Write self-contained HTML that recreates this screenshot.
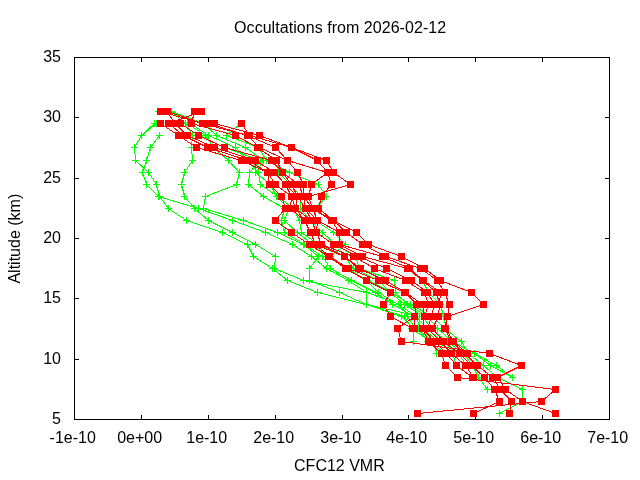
<!DOCTYPE html>
<html><head><meta charset="utf-8"><title>Occultations from 2026-02-12</title>
<style>html,body{margin:0;padding:0;background:#fff}body{width:640px;height:480px;overflow:hidden}svg{display:block}text{font-family:"Liberation Sans",sans-serif;font-size:16px;fill:#000}</style></head><body>
<svg width="640" height="480" viewBox="0 0 640 480">
<rect width="640" height="480" fill="#fff"/>
<text x="340.1" y="33.1" text-anchor="middle" textLength="212" lengthAdjust="spacing">Occultations from 2026-02-12</text>
<text x="339.4" y="471.3" text-anchor="middle">CFC12 VMR</text>
<text transform="translate(19.5,238.7) rotate(-90)" text-anchor="middle">Altitude (km)</text>
<text x="61" y="424.3" text-anchor="end">5</text>
<text x="61" y="364.3" text-anchor="end">10</text>
<text x="61" y="303.3" text-anchor="end">15</text>
<text x="61" y="243.3" text-anchor="end">20</text>
<text x="61" y="183.3" text-anchor="end">25</text>
<text x="61" y="122.3" text-anchor="end">30</text>
<text x="61" y="62.3" text-anchor="end">35</text>
<text x="72.7" y="443" text-anchor="middle">-1e-10</text>
<text x="139.7" y="443" text-anchor="middle">0e+00</text>
<text x="206.7" y="443" text-anchor="middle">1e-10</text>
<text x="273.7" y="443" text-anchor="middle">2e-10</text>
<text x="340.7" y="443" text-anchor="middle">3e-10</text>
<text x="406.7" y="443" text-anchor="middle">4e-10</text>
<text x="473.7" y="443" text-anchor="middle">5e-10</text>
<text x="540.7" y="443" text-anchor="middle">6e-10</text>
<text x="607.7" y="443" text-anchor="middle">7e-10</text>
<g shape-rendering="crispEdges">
<path fill="none" stroke="#000" stroke-width="1" d="M74.5 57.5H609.5V419.5H74.5Z"/>
<path fill="none" stroke="#000" stroke-width="1" d="M141.5 419v-4M141.5 58v4M208.5 419v-4M208.5 58v4M275.5 419v-4M275.5 58v4M342.5 419v-4M342.5 58v4M408.5 419v-4M408.5 58v4M475.5 419v-4M475.5 58v4M542.5 419v-4M542.5 58v4M75 359.5h4M609 359.5h-4M75 298.5h4M609 298.5h-4M75 238.5h4M609 238.5h-4M75 178.5h4M609 178.5h-4M75 117.5h4M609 117.5h-4"/>
<polyline fill="none" stroke="#00ff00" stroke-width="1" points="154.5,123.5 141.5,135.5 134.5,147.5 135.5,160.5 148.5,172.5 156.5,184.5 159.5,196.5 168.5,208.5 186.5,220.5 222.5,232.5 247.5,244.5 253.5,256.5 272.5,268.5 287.5,280.5 317.5,292.5 366.5,304.5 401.5,316.5 413.5,328.5 413.5,341.5"/>
<polyline fill="none" stroke="#00ff00" stroke-width="1" points="159.5,135.5 150.5,147.5 146.5,160.5 142.5,172.5 146.5,184.5 158.5,196.5 198.5,208.5 232.5,220.5 265.5,232.5 292.5,244.5 311.5,256.5 326.5,268.5 348.5,280.5 366.5,292.5 400.5,304.5 407.5,316.5 415.5,328.5 434.5,341.5 436.5,353.5"/>
<polyline fill="none" stroke="#00ff00" stroke-width="1" points="171.5,111.5 185.5,123.5 192.5,135.5 191.5,147.5 192.5,160.5 184.5,172.5 181.5,184.5 184.5,196.5 194.5,208.5 208.5,220.5 232.5,232.5 255.5,244.5 275.5,256.5 274.5,268.5 303.5,280.5 366.5,292.5 366.5,304.5 404.5,316.5 411.5,328.5 430.5,341.5 444.5,353.5"/>
<polyline fill="none" stroke="#00ff00" stroke-width="1" points="187.5,123.5 205.5,135.5 213.5,147.5 228.5,160.5 239.5,172.5 236.5,184.5 205.5,196.5 203.5,208.5 243.5,220.5 277.5,232.5 303.5,244.5 318.5,256.5 309.5,268.5 309.5,280.5 339.5,292.5 366.5,304.5 419.5,316.5 418.5,328.5 427.5,341.5 441.5,353.5 445.5,365.5"/>
<polyline fill="none" stroke="#00ff00" stroke-width="1" points="199.5,135.5 224.5,147.5 260.5,160.5 249.5,172.5 248.5,184.5 263.5,196.5 284.5,208.5 281.5,220.5 284.5,232.5 304.5,244.5 322.5,256.5 330.5,268.5 351.5,280.5 375.5,292.5 392.5,304.5 414.5,316.5 422.5,328.5 438.5,341.5 452.5,353.5 456.5,365.5"/>
<polyline fill="none" stroke="#00ff00" stroke-width="1" points="203.5,123.5 216.5,135.5 245.5,147.5 263.5,160.5 255.5,172.5 270.5,184.5 276.5,196.5 288.5,208.5 284.5,220.5 297.5,232.5 312.5,244.5 329.5,256.5 346.5,268.5 366.5,280.5 378.5,292.5 398.5,304.5 416.5,316.5 426.5,328.5 442.5,341.5 458.5,353.5 466.5,365.5"/>
<polyline fill="none" stroke="#00ff00" stroke-width="1" points="190.5,123.5 208.5,135.5 235.5,147.5 247.5,160.5 258.5,172.5 260.5,184.5 277.5,196.5 293.5,208.5 299.5,220.5 301.5,232.5 318.5,244.5 344.5,256.5 353.5,268.5 378.5,280.5 390.5,292.5 404.5,304.5 423.5,316.5 430.5,328.5 447.5,341.5 463.5,353.5 472.5,365.5 478.5,377.5 487.5,389.5"/>
<polyline fill="none" stroke="#00ff00" stroke-width="1" points="278.5,172.5 290.5,184.5 300.5,196.5 300.5,208.5 310.5,220.5 322.5,232.5 335.5,244.5 355.5,256.5 359.5,268.5 394.5,280.5 395.5,292.5 407.5,304.5 427.5,316.5 437.5,328.5 452.5,341.5 474.5,353.5 490.5,365.5 512.5,377.5"/>
<polyline fill="none" stroke="#00ff00" stroke-width="1" points="240.5,123.5 226.5,135.5 258.5,147.5 266.5,160.5 289.5,172.5 318.5,184.5 326.5,196.5 315.5,208.5 315.5,220.5 333.5,232.5 345.5,244.5 330.5,256.5 347.5,268.5 367.5,280.5 391.5,292.5 410.5,304.5 432.5,316.5 444.5,328.5 461.5,341.5 468.5,353.5 483.5,365.5 497.5,377.5 522.5,389.5 522.5,401.5 499.5,413.5"/>
<polyline fill="none" stroke="#00ff00" stroke-width="1" points="409.5,268.5 422.5,280.5 428.5,292.5 440.5,304.5 443.5,316.5 446.5,328.5 452.5,341.5 474.5,353.5 496.5,365.5 512.5,377.5"/>
<polyline fill="none" stroke="#00ff00" stroke-width="1" points="156.5,123.5 141.5,135.5"/>
<polyline fill="none" stroke="#00ff00" stroke-width="1" points="171.5,111.5 203.5,123.5"/>
<path fill="none" stroke="#00ff00" stroke-width="1" d="M151 123.5h7M154.5 120v7M138 135.5h7M141.5 132v7M131 147.5h7M134.5 144v7M132 160.5h7M135.5 157v7M145 172.5h7M148.5 169v7M153 184.5h7M156.5 181v7M156 196.5h7M159.5 193v7M165 208.5h7M168.5 205v7M183 220.5h7M186.5 217v7M219 232.5h7M222.5 229v7M244 244.5h7M247.5 241v7M250 256.5h7M253.5 253v7M269 268.5h7M272.5 265v7M284 280.5h7M287.5 277v7M314 292.5h7M317.5 289v7M363 304.5h7M366.5 301v7M398 316.5h7M401.5 313v7M410 328.5h7M413.5 325v7M410 341.5h7M413.5 338v7M156 135.5h7M159.5 132v7M147 147.5h7M150.5 144v7M143 160.5h7M146.5 157v7M139 172.5h7M142.5 169v7M143 184.5h7M146.5 181v7M155 196.5h7M158.5 193v7M195 208.5h7M198.5 205v7M229 220.5h7M232.5 217v7M262 232.5h7M265.5 229v7M289 244.5h7M292.5 241v7M308 256.5h7M311.5 253v7M323 268.5h7M326.5 265v7M345 280.5h7M348.5 277v7M363 292.5h7M366.5 289v7M397 304.5h7M400.5 301v7M404 316.5h7M407.5 313v7M412 328.5h7M415.5 325v7M431 341.5h7M434.5 338v7M433 353.5h7M436.5 350v7M168 111.5h7M171.5 108v7M182 123.5h7M185.5 120v7M189 135.5h7M192.5 132v7M188 147.5h7M191.5 144v7M189 160.5h7M192.5 157v7M181 172.5h7M184.5 169v7M178 184.5h7M181.5 181v7M181 196.5h7M184.5 193v7M191 208.5h7M194.5 205v7M205 220.5h7M208.5 217v7M229 232.5h7M232.5 229v7M252 244.5h7M255.5 241v7M272 256.5h7M275.5 253v7M271 268.5h7M274.5 265v7M300 280.5h7M303.5 277v7M363 292.5h7M366.5 289v7M363 304.5h7M366.5 301v7M401 316.5h7M404.5 313v7M408 328.5h7M411.5 325v7M427 341.5h7M430.5 338v7M441 353.5h7M444.5 350v7M184 123.5h7M187.5 120v7M202 135.5h7M205.5 132v7M210 147.5h7M213.5 144v7M225 160.5h7M228.5 157v7M236 172.5h7M239.5 169v7M233 184.5h7M236.5 181v7M202 196.5h7M205.5 193v7M200 208.5h7M203.5 205v7M240 220.5h7M243.5 217v7M274 232.5h7M277.5 229v7M300 244.5h7M303.5 241v7M315 256.5h7M318.5 253v7M306 268.5h7M309.5 265v7M306 280.5h7M309.5 277v7M336 292.5h7M339.5 289v7M363 304.5h7M366.5 301v7M416 316.5h7M419.5 313v7M415 328.5h7M418.5 325v7M424 341.5h7M427.5 338v7M438 353.5h7M441.5 350v7M442 365.5h7M445.5 362v7M196 135.5h7M199.5 132v7M221 147.5h7M224.5 144v7M257 160.5h7M260.5 157v7M246 172.5h7M249.5 169v7M245 184.5h7M248.5 181v7M260 196.5h7M263.5 193v7M281 208.5h7M284.5 205v7M278 220.5h7M281.5 217v7M281 232.5h7M284.5 229v7M301 244.5h7M304.5 241v7M319 256.5h7M322.5 253v7M327 268.5h7M330.5 265v7M348 280.5h7M351.5 277v7M372 292.5h7M375.5 289v7M389 304.5h7M392.5 301v7M411 316.5h7M414.5 313v7M419 328.5h7M422.5 325v7M435 341.5h7M438.5 338v7M449 353.5h7M452.5 350v7M453 365.5h7M456.5 362v7M200 123.5h7M203.5 120v7M213 135.5h7M216.5 132v7M242 147.5h7M245.5 144v7M260 160.5h7M263.5 157v7M252 172.5h7M255.5 169v7M267 184.5h7M270.5 181v7M273 196.5h7M276.5 193v7M285 208.5h7M288.5 205v7M281 220.5h7M284.5 217v7M294 232.5h7M297.5 229v7M309 244.5h7M312.5 241v7M326 256.5h7M329.5 253v7M343 268.5h7M346.5 265v7M363 280.5h7M366.5 277v7M375 292.5h7M378.5 289v7M395 304.5h7M398.5 301v7M413 316.5h7M416.5 313v7M423 328.5h7M426.5 325v7M439 341.5h7M442.5 338v7M455 353.5h7M458.5 350v7M463 365.5h7M466.5 362v7M187 123.5h7M190.5 120v7M205 135.5h7M208.5 132v7M232 147.5h7M235.5 144v7M244 160.5h7M247.5 157v7M255 172.5h7M258.5 169v7M257 184.5h7M260.5 181v7M274 196.5h7M277.5 193v7M290 208.5h7M293.5 205v7M296 220.5h7M299.5 217v7M298 232.5h7M301.5 229v7M315 244.5h7M318.5 241v7M341 256.5h7M344.5 253v7M350 268.5h7M353.5 265v7M375 280.5h7M378.5 277v7M387 292.5h7M390.5 289v7M401 304.5h7M404.5 301v7M420 316.5h7M423.5 313v7M427 328.5h7M430.5 325v7M444 341.5h7M447.5 338v7M460 353.5h7M463.5 350v7M469 365.5h7M472.5 362v7M475 377.5h7M478.5 374v7M484 389.5h7M487.5 386v7M275 172.5h7M278.5 169v7M287 184.5h7M290.5 181v7M297 196.5h7M300.5 193v7M297 208.5h7M300.5 205v7M307 220.5h7M310.5 217v7M319 232.5h7M322.5 229v7M332 244.5h7M335.5 241v7M352 256.5h7M355.5 253v7M356 268.5h7M359.5 265v7M391 280.5h7M394.5 277v7M392 292.5h7M395.5 289v7M404 304.5h7M407.5 301v7M424 316.5h7M427.5 313v7M434 328.5h7M437.5 325v7M449 341.5h7M452.5 338v7M471 353.5h7M474.5 350v7M487 365.5h7M490.5 362v7M509 377.5h7M512.5 374v7M237 123.5h7M240.5 120v7M223 135.5h7M226.5 132v7M255 147.5h7M258.5 144v7M263 160.5h7M266.5 157v7M286 172.5h7M289.5 169v7M315 184.5h7M318.5 181v7M323 196.5h7M326.5 193v7M312 208.5h7M315.5 205v7M312 220.5h7M315.5 217v7M330 232.5h7M333.5 229v7M342 244.5h7M345.5 241v7M327 256.5h7M330.5 253v7M344 268.5h7M347.5 265v7M364 280.5h7M367.5 277v7M388 292.5h7M391.5 289v7M407 304.5h7M410.5 301v7M429 316.5h7M432.5 313v7M441 328.5h7M444.5 325v7M458 341.5h7M461.5 338v7M465 353.5h7M468.5 350v7M480 365.5h7M483.5 362v7M494 377.5h7M497.5 374v7M519 389.5h7M522.5 386v7M519 401.5h7M522.5 398v7M496 413.5h7M499.5 410v7M406 268.5h7M409.5 265v7M419 280.5h7M422.5 277v7M425 292.5h7M428.5 289v7M437 304.5h7M440.5 301v7M440 316.5h7M443.5 313v7M443 328.5h7M446.5 325v7M449 341.5h7M452.5 338v7M471 353.5h7M474.5 350v7M493 365.5h7M496.5 362v7M509 377.5h7M512.5 374v7M155 111.5h7M158.5 108v7M153 123.5h7M156.5 120v7M138 135.5h7M141.5 132v7M168 111.5h7M171.5 108v7M200 123.5h7M203.5 120v7"/>
<polyline fill="none" stroke="#ff0000" stroke-width="1" points="160.5,123.5 178.5,135.5 196.5,147.5 241.5,160.5 267.5,172.5 269.5,184.5 281.5,196.5 285.5,208.5 275.5,220.5 291.5,232.5 309.5,244.5 328.5,256.5 345.5,268.5 366.5,280.5 390.5,292.5 383.5,304.5 390.5,316.5 412.5,328.5"/>
<polyline fill="none" stroke="#ff0000" stroke-width="1" points="201.5,111.5 168.5,123.5 183.5,135.5 207.5,147.5 248.5,160.5 267.5,172.5 275.5,184.5 291.5,196.5 290.5,208.5 304.5,220.5 310.5,232.5 315.5,244.5 329.5,256.5 348.5,268.5 378.5,280.5 404.5,292.5 416.5,304.5 414.5,316.5 397.5,328.5 401.5,341.5 489.5,353.5 521.5,365.5 497.5,377.5 505.5,389.5 522.5,401.5 555.5,413.5"/>
<polyline fill="none" stroke="#ff0000" stroke-width="1" points="167.5,111.5 174.5,123.5 187.5,135.5 214.5,147.5 255.5,160.5 274.5,172.5 285.5,184.5 291.5,196.5 295.5,208.5 304.5,220.5 310.5,232.5 315.5,244.5 344.5,256.5 358.5,268.5 385.5,280.5 405.5,292.5 416.5,304.5 414.5,316.5 414.5,328.5"/>
<polyline fill="none" stroke="#ff0000" stroke-width="1" points="174.5,123.5 187.5,135.5 214.5,147.5 255.5,160.5 274.5,172.5 285.5,184.5 297.5,196.5 295.5,208.5 311.5,220.5 316.5,232.5 321.5,244.5 344.5,256.5 360.5,268.5 385.5,280.5 405.5,292.5 422.5,304.5 424.5,316.5 422.5,328.5 428.5,341.5 441.5,353.5 445.5,365.5 457.5,377.5 555.5,389.5 541.5,401.5 417.5,413.5"/>
<polyline fill="none" stroke="#ff0000" stroke-width="1" points="180.5,123.5 198.5,135.5 224.5,147.5 271.5,160.5 282.5,172.5 291.5,184.5 297.5,196.5 305.5,208.5 311.5,220.5 316.5,232.5 321.5,244.5 353.5,256.5 374.5,268.5 405.5,280.5 424.5,292.5 428.5,304.5 424.5,316.5 422.5,328.5 434.5,341.5 446.5,353.5 456.5,365.5 472.5,377.5"/>
<polyline fill="none" stroke="#ff0000" stroke-width="1" points="194.5,111.5 191.5,123.5 235.5,135.5 257.5,147.5 276.5,160.5 282.5,172.5 298.5,184.5 303.5,196.5 305.5,208.5 317.5,220.5 316.5,232.5 333.5,244.5 358.5,256.5 386.5,268.5 411.5,280.5 427.5,292.5 434.5,304.5 431.5,316.5 427.5,328.5 440.5,341.5 451.5,353.5 465.5,365.5 473.5,377.5"/>
<polyline fill="none" stroke="#ff0000" stroke-width="1" points="160.5,111.5 202.5,123.5 247.5,135.5 259.5,147.5 287.5,160.5 297.5,172.5 303.5,184.5 303.5,196.5 312.5,208.5 317.5,220.5 339.5,232.5 339.5,244.5 362.5,256.5 407.5,268.5 422.5,280.5 436.5,292.5 439.5,304.5 438.5,316.5 432.5,328.5 443.5,341.5 459.5,353.5 471.5,365.5 484.5,377.5 494.5,389.5 499.5,401.5 473.5,413.5"/>
<polyline fill="none" stroke="#ff0000" stroke-width="1" points="208.5,123.5 247.5,135.5 275.5,147.5 287.5,160.5 327.5,172.5 311.5,184.5 308.5,196.5 312.5,208.5 331.5,220.5 339.5,232.5 339.5,244.5 382.5,256.5 409.5,268.5 423.5,280.5 440.5,292.5 439.5,304.5 438.5,316.5 432.5,328.5"/>
<polyline fill="none" stroke="#ff0000" stroke-width="1" points="241.5,123.5 249.5,135.5 291.5,147.5 317.5,160.5 327.5,172.5 331.5,184.5 321.5,196.5 318.5,208.5 333.5,220.5 346.5,232.5 362.5,244.5 385.5,256.5 420.5,268.5 437.5,280.5 444.5,292.5 449.5,304.5 447.5,316.5 444.5,328.5 451.5,341.5 464.5,353.5 477.5,365.5 492.5,377.5 500.5,389.5 511.5,401.5 509.5,413.5"/>
<polyline fill="none" stroke="#ff0000" stroke-width="1" points="214.5,123.5 259.5,135.5 291.5,147.5 326.5,160.5 333.5,172.5 350.5,184.5 308.5,196.5 312.5,208.5 333.5,220.5 356.5,232.5 368.5,244.5 401.5,256.5 424.5,268.5 440.5,280.5 471.5,292.5 483.5,304.5 447.5,316.5 445.5,328.5 453.5,341.5 467.5,353.5"/>
<polyline fill="none" stroke="#ff0000" stroke-width="1" points="167.5,111.5 202.5,123.5"/>
<path fill="#ff0000" stroke="none" d="M157 120h7v7h-7zM175 132h7v7h-7zM193 144h7v7h-7zM238 157h7v7h-7zM264 169h7v7h-7zM266 181h7v7h-7zM278 193h7v7h-7zM282 205h7v7h-7zM272 217h7v7h-7zM288 229h7v7h-7zM306 241h7v7h-7zM325 253h7v7h-7zM342 265h7v7h-7zM363 277h7v7h-7zM387 289h7v7h-7zM380 301h7v7h-7zM387 313h7v7h-7zM409 325h7v7h-7zM198 108h7v7h-7zM165 120h7v7h-7zM180 132h7v7h-7zM204 144h7v7h-7zM245 157h7v7h-7zM264 169h7v7h-7zM272 181h7v7h-7zM288 193h7v7h-7zM287 205h7v7h-7zM301 217h7v7h-7zM307 229h7v7h-7zM312 241h7v7h-7zM326 253h7v7h-7zM345 265h7v7h-7zM375 277h7v7h-7zM401 289h7v7h-7zM413 301h7v7h-7zM411 313h7v7h-7zM394 325h7v7h-7zM398 338h7v7h-7zM486 350h7v7h-7zM518 362h7v7h-7zM494 374h7v7h-7zM502 386h7v7h-7zM519 398h7v7h-7zM552 410h7v7h-7zM164 108h7v7h-7zM171 120h7v7h-7zM184 132h7v7h-7zM211 144h7v7h-7zM252 157h7v7h-7zM271 169h7v7h-7zM282 181h7v7h-7zM288 193h7v7h-7zM292 205h7v7h-7zM301 217h7v7h-7zM307 229h7v7h-7zM312 241h7v7h-7zM341 253h7v7h-7zM355 265h7v7h-7zM382 277h7v7h-7zM402 289h7v7h-7zM413 301h7v7h-7zM411 313h7v7h-7zM411 325h7v7h-7zM171 120h7v7h-7zM184 132h7v7h-7zM211 144h7v7h-7zM252 157h7v7h-7zM271 169h7v7h-7zM282 181h7v7h-7zM294 193h7v7h-7zM292 205h7v7h-7zM308 217h7v7h-7zM313 229h7v7h-7zM318 241h7v7h-7zM341 253h7v7h-7zM357 265h7v7h-7zM382 277h7v7h-7zM402 289h7v7h-7zM419 301h7v7h-7zM421 313h7v7h-7zM419 325h7v7h-7zM425 338h7v7h-7zM438 350h7v7h-7zM442 362h7v7h-7zM454 374h7v7h-7zM552 386h7v7h-7zM538 398h7v7h-7zM414 410h7v7h-7zM177 120h7v7h-7zM195 132h7v7h-7zM221 144h7v7h-7zM268 157h7v7h-7zM279 169h7v7h-7zM288 181h7v7h-7zM294 193h7v7h-7zM302 205h7v7h-7zM308 217h7v7h-7zM313 229h7v7h-7zM318 241h7v7h-7zM350 253h7v7h-7zM371 265h7v7h-7zM402 277h7v7h-7zM421 289h7v7h-7zM425 301h7v7h-7zM421 313h7v7h-7zM419 325h7v7h-7zM431 338h7v7h-7zM443 350h7v7h-7zM453 362h7v7h-7zM469 374h7v7h-7zM191 108h7v7h-7zM188 120h7v7h-7zM232 132h7v7h-7zM254 144h7v7h-7zM273 157h7v7h-7zM279 169h7v7h-7zM295 181h7v7h-7zM300 193h7v7h-7zM302 205h7v7h-7zM314 217h7v7h-7zM313 229h7v7h-7zM330 241h7v7h-7zM355 253h7v7h-7zM383 265h7v7h-7zM408 277h7v7h-7zM424 289h7v7h-7zM431 301h7v7h-7zM428 313h7v7h-7zM424 325h7v7h-7zM437 338h7v7h-7zM448 350h7v7h-7zM462 362h7v7h-7zM470 374h7v7h-7zM157 108h7v7h-7zM199 120h7v7h-7zM244 132h7v7h-7zM256 144h7v7h-7zM284 157h7v7h-7zM294 169h7v7h-7zM300 181h7v7h-7zM300 193h7v7h-7zM309 205h7v7h-7zM314 217h7v7h-7zM336 229h7v7h-7zM336 241h7v7h-7zM359 253h7v7h-7zM404 265h7v7h-7zM419 277h7v7h-7zM433 289h7v7h-7zM436 301h7v7h-7zM435 313h7v7h-7zM429 325h7v7h-7zM440 338h7v7h-7zM456 350h7v7h-7zM468 362h7v7h-7zM481 374h7v7h-7zM491 386h7v7h-7zM496 398h7v7h-7zM470 410h7v7h-7zM205 120h7v7h-7zM244 132h7v7h-7zM272 144h7v7h-7zM284 157h7v7h-7zM324 169h7v7h-7zM308 181h7v7h-7zM305 193h7v7h-7zM309 205h7v7h-7zM328 217h7v7h-7zM336 229h7v7h-7zM336 241h7v7h-7zM379 253h7v7h-7zM406 265h7v7h-7zM420 277h7v7h-7zM437 289h7v7h-7zM436 301h7v7h-7zM435 313h7v7h-7zM429 325h7v7h-7zM238 120h7v7h-7zM246 132h7v7h-7zM288 144h7v7h-7zM314 157h7v7h-7zM324 169h7v7h-7zM328 181h7v7h-7zM318 193h7v7h-7zM315 205h7v7h-7zM330 217h7v7h-7zM343 229h7v7h-7zM359 241h7v7h-7zM382 253h7v7h-7zM417 265h7v7h-7zM434 277h7v7h-7zM441 289h7v7h-7zM446 301h7v7h-7zM444 313h7v7h-7zM441 325h7v7h-7zM448 338h7v7h-7zM461 350h7v7h-7zM474 362h7v7h-7zM489 374h7v7h-7zM497 386h7v7h-7zM508 398h7v7h-7zM506 410h7v7h-7zM211 120h7v7h-7zM256 132h7v7h-7zM288 144h7v7h-7zM323 157h7v7h-7zM330 169h7v7h-7zM347 181h7v7h-7zM305 193h7v7h-7zM309 205h7v7h-7zM330 217h7v7h-7zM353 229h7v7h-7zM365 241h7v7h-7zM398 253h7v7h-7zM421 265h7v7h-7zM437 277h7v7h-7zM468 289h7v7h-7zM480 301h7v7h-7zM444 313h7v7h-7zM442 325h7v7h-7zM450 338h7v7h-7zM464 350h7v7h-7zM164 108h7v7h-7zM199 120h7v7h-7z"/>
</g></svg></body></html>
